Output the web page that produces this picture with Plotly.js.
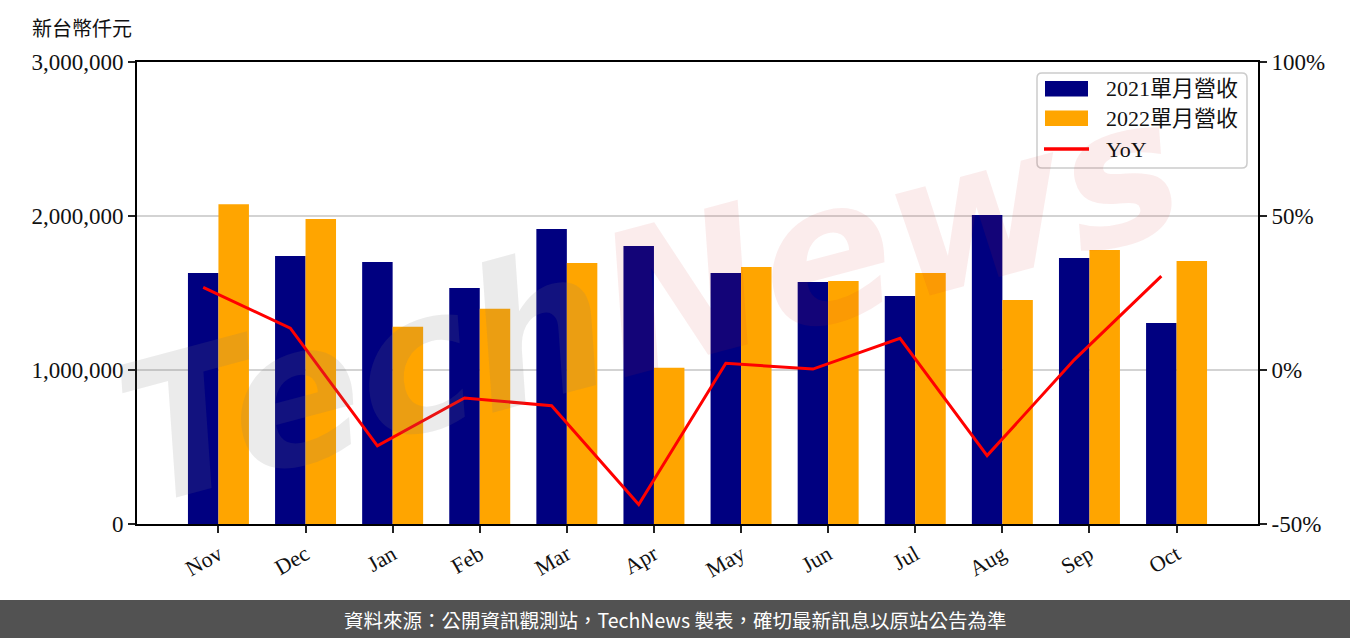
<!DOCTYPE html>
<html>
<head>
<meta charset="utf-8">
<script src="https://cdn.plot.ly/plotly-3.0.1.min.js"></script>
<style>
  html, body { margin: 0; padding: 0; background: #fff; }
  #chart { width: 1350px; height: 638px; }
</style>
</head>
<body>
<div id="chart"></div>
<script>
// ---- data ----
const months = ["Nov", "Dec", "Jan", "Feb", "Mar", "Apr", "May", "Jun", "Jul", "Aug", "Sep", "Oct"];
const rev2021 = [1630000, 1740000, 1701000, 1533000, 1916000, 1806000, 1630000, 1572000, 1481000, 2007000, 1728000, 1306000];
const rev2022 = [2077000, 1981000, 1281000, 1397000, 1695000, 1014000, 1669000, 1578000, 1630000, 1455000, 1780000, 1708000];
const yoy = [26.8, 13.6, -24.6, -9.1, -11.6, -43.7, 2.2, 0.3, 10.3, -27.8, 3.3, 30.5];
const seriesNames = ["2021單月營收", "2022單月營收", "YoY"];
const leftTicks = [0, 1000000, 2000000, 3000000];
const rightTicks = [-50, 0, 50, 100];
const rightTickText = ["-50%", "0%", "50%", "100%"];

// ---- style ----
const NAVY = "#000080", ORANGE = "#FFA500", RED = "#FF0000";
const BAR_W = 0.35;
const PAD = 0.585; // axis margin beyond outermost bar edges
const W = 1350, H = 638, ML = 137, MR = 92, MT = 62, MB = 114;
const PW = W - ML - MR, PH = H - MT - MB;
const px = x => (x - ML) / PW;           // pixel -> paper x
const py = y => (H - MB - y) / PH;       // pixel -> paper y
const serif = "Liberation Serif, Noto Sans CJK TC, serif";
const cjk = "Noto Sans CJK TC, Noto Sans, sans-serif";

const xr0 = -BAR_W - PAD, xr1 = months.length - 1 + BAR_W + PAD;

const traces = [
  { type: "bar", x: months, y: rev2021, name: seriesNames[0], marker: { color: NAVY }, xaxis: "x", yaxis: "y", showlegend: false, hoverinfo: "x+y" },
  { type: "bar", x: months, y: rev2022, name: seriesNames[1], marker: { color: ORANGE }, xaxis: "x", yaxis: "y", showlegend: false, hoverinfo: "x+y" },
  { type: "scatter", mode: "lines", x: months, y: yoy, name: seriesNames[2], line: { color: RED, width: 3 }, xaxis: "x2", yaxis: "y2", showlegend: false }
];

// custom legend (matching the large swatches of the original)
const lg = { x0: 1037, x1: 1247, y0: 73, y1: 168, r: 5 };
function roundRect(b) {
  const X0 = px(b.x0), X1 = px(b.x1), Y0 = py(b.y0), Y1 = py(b.y1);
  const rx = b.r / PW, ry = b.r / PH;
  return `M ${X0 + rx},${Y0} L ${X1 - rx},${Y0} Q ${X1},${Y0} ${X1},${Y0 - ry} L ${X1},${Y1 + ry} Q ${X1},${Y1} ${X1 - rx},${Y1} L ${X0 + rx},${Y1} Q ${X0},${Y1} ${X0},${Y1 + ry} L ${X0},${Y0 - ry} Q ${X0},${Y0} ${X0 + rx},${Y0} Z`;
}
const rows = [89, 118.5, 149];
const shapes = [
  { type: "path", xref: "paper", yref: "paper", path: roundRect(lg), fillcolor: "rgba(255,255,255,0.85)", line: { color: "#cccccc", width: 1.5 }, layer: "above" },
  { type: "rect", xref: "paper", yref: "paper", x0: px(1045), x1: px(1088), y0: py(rows[0] - 8), y1: py(rows[0] + 7.5), fillcolor: NAVY, line: { width: 0 }, layer: "above" },
  { type: "rect", xref: "paper", yref: "paper", x0: px(1045), x1: px(1088), y0: py(rows[1] - 8), y1: py(rows[1] + 7.5), fillcolor: ORANGE, line: { width: 0 }, layer: "above" },
  { type: "line", xref: "paper", yref: "paper", x0: px(1044), x1: px(1089), y0: py(rows[2]), y1: py(rows[2]), line: { color: RED, width: 3.5 }, layer: "above" },
  // footer bar
  { type: "rect", xref: "paper", yref: "paper", x0: px(0), x1: px(W), y0: py(600), y1: py(H + 2), fillcolor: "#525252", line: { width: 0 }, layer: "above" }
];

const annotations = [
  // watermark
  { xref: "paper", yref: "paper", x: px(650), y: py(300), xanchor: "center", yanchor: "middle", showarrow: false, textangle: -15,
    text: '<span style="color:rgba(120,120,120,0.15)">Tech</span><span style="color:rgba(215,40,40,0.09)">News</span>',
    font: { family: "DejaVu Sans, sans-serif", size: 195, weight: 700, style: "italic" } },
  // unit label
  { xref: "paper", yref: "paper", x: px(30), y: py(27), xanchor: "left", yanchor: "middle", showarrow: false,
    text: "新台幣仟元", font: { family: cjk, size: 20, color: "#111" } },
  // legend labels
  ...seriesNames.map((n, i) => ({ xref: "paper", yref: "paper", x: px(1104), y: py(rows[i]), xanchor: "left", yanchor: "middle", showarrow: false,
    text: n, font: { family: serif, size: 22, color: "#111" } })),
  // footer text
  { xref: "paper", yref: "paper", x: px(675), y: py(619), xanchor: "center", yanchor: "middle", showarrow: false,
    text: "資料來源：公開資訊觀測站，TechNews 製表，確切最新訊息以原站公告為準", font: { family: cjk, size: 19.5, color: "#ffffff" } }
];

const tickFont = { family: serif, size: 23, color: "#111" };
const layout = {
  width: W, height: H,
  margin: { l: ML, r: MR, t: MT, b: MB, pad: 0 },
  paper_bgcolor: "#ffffff", plot_bgcolor: "#ffffff",
  barmode: "group", bargap: 1 - 2 * BAR_W, bargroupgap: 0,
  showlegend: false,
  xaxis: { type: "category", range: [xr0, xr1], tickangle: -30, tickfont: { family: serif, size: 22, color: "#111" },
    showline: true, mirror: true, linecolor: "#000", linewidth: 2,
    ticks: "outside", ticklen: 7, tickwidth: 2, tickcolor: "#222", showgrid: false, zeroline: false, fixedrange: true },
  xaxis2: { type: "category", overlaying: "x", anchor: "y2", range: [xr0 + BAR_W / 2, xr1 + BAR_W / 2], visible: false, fixedrange: true },
  yaxis: { range: [0, 3000000], tickmode: "array", tickvals: leftTicks, tickformat: ",d", tickfont: tickFont,
    showline: true, mirror: true, linecolor: "#000", linewidth: 2,
    ticks: "outside", ticklen: 7, tickwidth: 2, tickcolor: "#222",
    showgrid: true, gridcolor: "#d3d3d3", gridwidth: 1.5, zeroline: false, fixedrange: true },
  yaxis2: { overlaying: "y", side: "right", anchor: "x", range: [-50, 100], tickmode: "array", tickvals: rightTicks, ticktext: rightTickText,
    tickfont: tickFont, showline: true, linecolor: "#000", linewidth: 2,
    ticks: "outside", ticklen: 7, tickwidth: 2, tickcolor: "#222", showgrid: false, zeroline: false, fixedrange: true },
  shapes, annotations
};

Plotly.newPlot("chart", traces, layout, { displayModeBar: false, staticPlot: true });
</script>
</body>
</html>
